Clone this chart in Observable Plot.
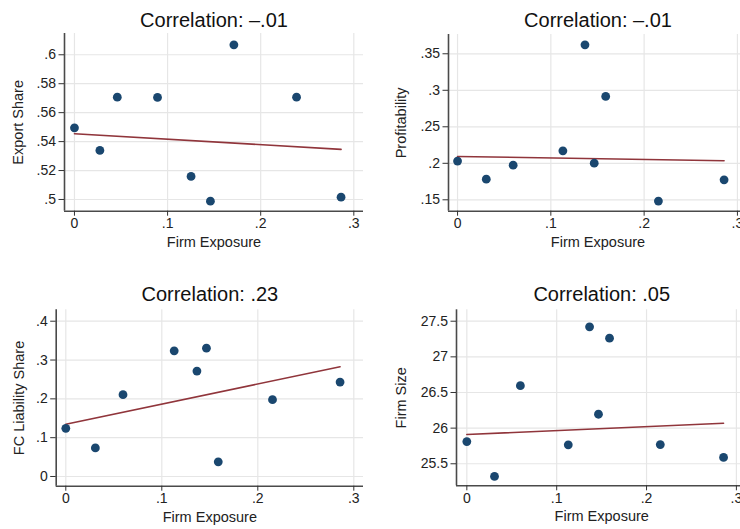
<!DOCTYPE html>
<html><head><meta charset="utf-8">
<script src="https://cdn.jsdelivr.net/npm/d3@7"></script>
<script src="https://cdn.jsdelivr.net/npm/@observablehq/plot@0.6"></script>
<style>
html,body{margin:0;padding:0;background:#fff;overflow:hidden}
#wrap{position:relative;width:740px;height:529px;overflow:hidden;background:#fff}
#wrap svg{position:absolute;overflow:visible}
</style></head><body><div id="wrap"></div>
<script>
// ---- data ----
const titles = ["Correlation: \u2013.01", "Correlation: \u2013.01", "Correlation: .23", "Correlation: .05"];
const yLabels = ["Export Share", "Profitability", "FC Liability Share", "Firm Size"];
const xLabel = "Firm Exposure";
const xTicks = [0, 0.1, 0.2, 0.3];

const exposurePanel1 = [0, 0.0273, 0.046, 0.0892, 0.1252, 0.146, 0.1712, 0.2385, 0.2863];
const exportShare = [0.5495, 0.5339, 0.5707, 0.5705, 0.5159, 0.4988, 0.6069, 0.5707, 0.5016];

const exposure = [0, 0.0308, 0.0596, 0.1129, 0.1366, 0.1465, 0.1588, 0.2153, 0.2857];
const profitability = [0.2030, 0.1783, 0.1975, 0.2171, 0.3623, 0.2002, 0.2916, 0.1482, 0.1774];
const fcLiabilityShare = [0.1242, 0.0737, 0.2107, 0.3238, 0.2715, 0.3306, 0.0377, 0.1979, 0.2433];
const firmSize = [25.812, 25.323, 26.596, 25.766, 27.421, 26.195, 27.262, 25.770, 25.589];

// fitted-line endpoints
const fitX1 = [0, 0.2863], fitY1 = [0.5454, 0.5346];
const fitX2 = [0, 0.2857], fitY2 = [0.2094, 0.2034];
const fitX3 = [0, 0.2857], fitY3 = [0.1345, 0.2827];
const fitX4 = [0, 0.2857], fitY4 = [25.910, 26.069];

const yTicks1 = [0.5, 0.52, 0.54, 0.56, 0.58, 0.6];
const yTicks2 = [0.15, 0.2, 0.25, 0.3, 0.35];
const yTicks3 = [0, 0.1, 0.2, 0.3, 0.4];
const yTicks4 = [25.5, 26, 26.5, 27, 27.5];

// ---- layout ----
const panels = [
  {xs: exposurePanel1, ys: exportShare, fx: fitX1, fy: fitY1, yTicks: yTicks1,
   left: 0, top: 0, width: 370, height: 260, mL: 64, mR: 7, mT: 33, mB: 49.3,
   xDom: [-0.0107, 0.3104], yDom: [0.4919, 0.6147], ylDx: -45.7, tDy: -7},
  {xs: exposure, ys: profitability, fx: fitX2, fy: fitY2, yTicks: yTicks2,
   left: 370, top: 0, width: 390, height: 260, mL: 78, mR: 13, mT: 34, mB: 49.3,
   xDom: [-0.0097, 0.3108], yDom: [0.1344, 0.3764], ylDx: -46.8, tDy: -7.3},
  {xs: exposure, ys: fcLiabilityShare, fx: fitX3, fy: fitY3, yTicks: yTicks3,
   left: 0, top: 260, width: 370, height: 269, mL: 55.7, mR: 7, mT: 49.3, mB: 43.3,
   xDom: [-0.0100, 0.3101], yDom: [-0.025, 0.4294], ylDx: -36.5, tDy: -9},
  {xs: exposure, ys: firmSize, fx: fitX4, fy: fitY4, yTicks: yTicks4,
   left: 370, top: 260, width: 390, height: 269, mL: 86, mR: 13.5, mT: 49.3, mB: 43.7,
   xDom: [-0.0115, 0.3118], yDom: [25.191, 27.66], ylDx: -55, tDy: -8.6}
];

const fmt = d => {
  const s = String(+(+d).toFixed(4));
  return s.replace(/^0\./, ".").replace(/^-0\./, "-.");
};

const wrap = document.getElementById("wrap");
const font = "'Liberation Sans', Arial, Helvetica, sans-serif";

panels.forEach((p, i) => {
  const pts = p.xs.map((x, j) => ({x, y: p.ys[j]}));
  const fit = p.fx.map((x, j) => ({x, y: p.fy[j]}));
  const chart = Plot.plot({
    width: p.width, height: p.height,
    marginLeft: p.mL, marginRight: p.mR, marginTop: p.mT, marginBottom: p.mB,
    style: {fontFamily: font, fontSize: "14px", color: "#222", background: "transparent", overflow: "visible"},
    x: {domain: p.xDom},
    y: {domain: p.yDom},
    marks: [
      Plot.gridX(xTicks, {stroke: "#e6e6e6", strokeOpacity: 1, strokeWidth: 1.2}),
      Plot.gridY(p.yTicks, {stroke: "#e6e6e6", strokeOpacity: 1, strokeWidth: 1.2}),
      Plot.ruleX([p.xDom[0]], {stroke: "#4a4a4a", strokeWidth: 1.6}),
      Plot.ruleY([p.yDom[0]], {stroke: "#4a4a4a", strokeWidth: 1.6}),
      Plot.axisX(xTicks, {tickSize: 5, tickPadding: 2, tickFormat: fmt, label: null, stroke: "#333", fill: "#222", fontSize: 14}),
      Plot.axisY(p.yTicks, {tickSize: 5.5, tickPadding: 3, tickFormat: fmt, label: null, stroke: "#333", fill: "#222", fontSize: 14}),
      Plot.line(fit, {x: "x", y: "y", stroke: "#90353b", strokeWidth: 1.6}),
      Plot.dot(pts, {x: "x", y: "y", r: 4.4, fill: "#1a476f", stroke: "none"}),
      Plot.text([titles[i]], {text: d => d, frameAnchor: "top", lineAnchor: "bottom", dy: p.tDy, fontSize: 20, fill: "#111"}),
      Plot.text([yLabels[i]], {text: d => d, frameAnchor: "left", rotate: -90, lineAnchor: "middle", textAnchor: "middle", dx: p.ylDx, fontSize: 14.5, fill: "#222"}),
      Plot.text([xLabel], {text: d => d, frameAnchor: "bottom", lineAnchor: "bottom", dy: 35.5, fontSize: 14.5, fill: "#222"})
    ]
  });
  chart.style.left = p.left + "px";
  chart.style.top = p.top + "px";
  wrap.appendChild(chart);
});
</script>
</body></html>
